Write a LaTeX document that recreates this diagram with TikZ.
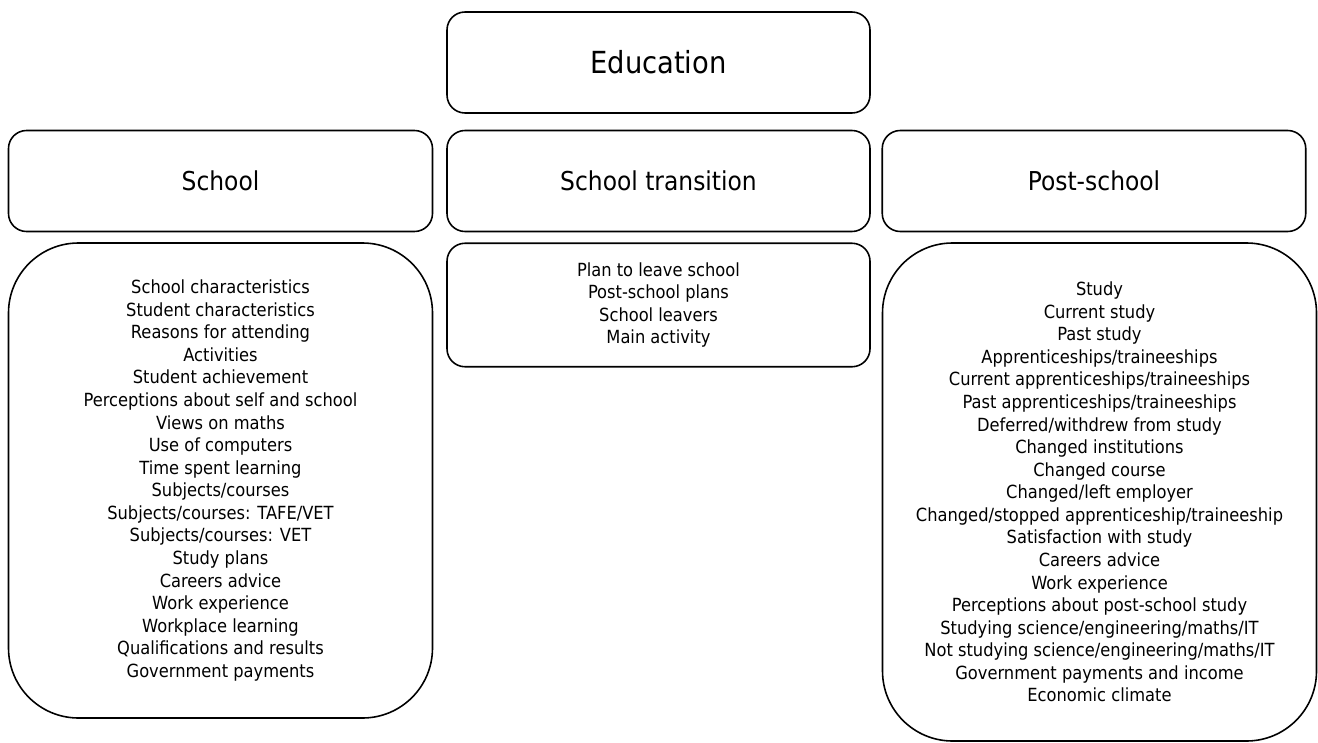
\documentclass[tikz,border=0pt]{standalone}
\usepackage{fontspec}
\setmainfont{DejaVu Sans Condensed}
\usetikzlibrary{positioning}
\tikzset{
	headbox/.style={draw, line width=0.9pt, rounded corners=0.36cm, minimum width=8.46cm, minimum height=2.02cm, inner sep=0pt, font=\fontsize{14.8}{18}\selectfont},
	itembox/.style={draw, line width=0.9pt, inner sep=0pt, align=center, font=\fontsize{10.3}{12.85}\selectfont}
}

\begin{document}
\begin{tikzpicture}
			%%%%% START %%%%%
			\useasboundingbox (0, 0) rectangle (26.36, -14.84);
			
			\node[headbox] (edu) at (13.17, -1.25) {\fontsize{17.3}{20}\selectfont Education};
			
			\node[headbox, minimum width=8.48cm] (school) at (4.41, -3.62) {School};
			\node[headbox] (trans) at (13.17, -3.62) {School transition};
			\node[headbox, minimum width=8.47cm] (post) at (21.88, -3.62) {Post-school};
			
			\node[itembox, rounded corners=1.4cm, minimum width=8.48cm, minimum height=9.5cm] (schoollist) at (4.41, -9.61) {School characteristics\\Student characteristics\\Reasons for attending\\Activities\\Student achievement\\Perceptions about self and school\\Views on maths\\Use of computers\\Time spent learning\\Subjects/courses\\Subjects/courses: TAFE/VET\\Subjects/courses: VET\\Study plans\\Careers advice\\Work experience\\Workplace learning\\Qualifications and results\\Government payments};
			
			\node[itembox, rounded corners=0.36cm, minimum width=8.46cm, minimum height=2.47cm] (translist) at (13.17, -6.1) {Plan to leave school\\Post-school plans\\School leavers\\Main activity};
			
			\node[itembox, rounded corners=1.4cm, minimum width=8.68cm, minimum height=9.96cm] (postlist) at (21.99, -9.84) {Study\\Current study\\Past study\\Apprenticeships/traineeships\\Current apprenticeships/traineeships\\Past apprenticeships/traineeships\\Deferred/withdrew from study\\Changed institutions\\Changed course\\Changed/left employer\\Changed/stopped apprenticeship/traineeship\\Satisfaction with study\\Careers advice\\Work experience\\Perceptions about post-school study\\Studying science/engineering/maths/IT\\Not studying science/engineering/maths/IT\\Government payments and income\\Economic climate};
			
			%%%%% END %%%%%
		\end{tikzpicture}
\end{document}
